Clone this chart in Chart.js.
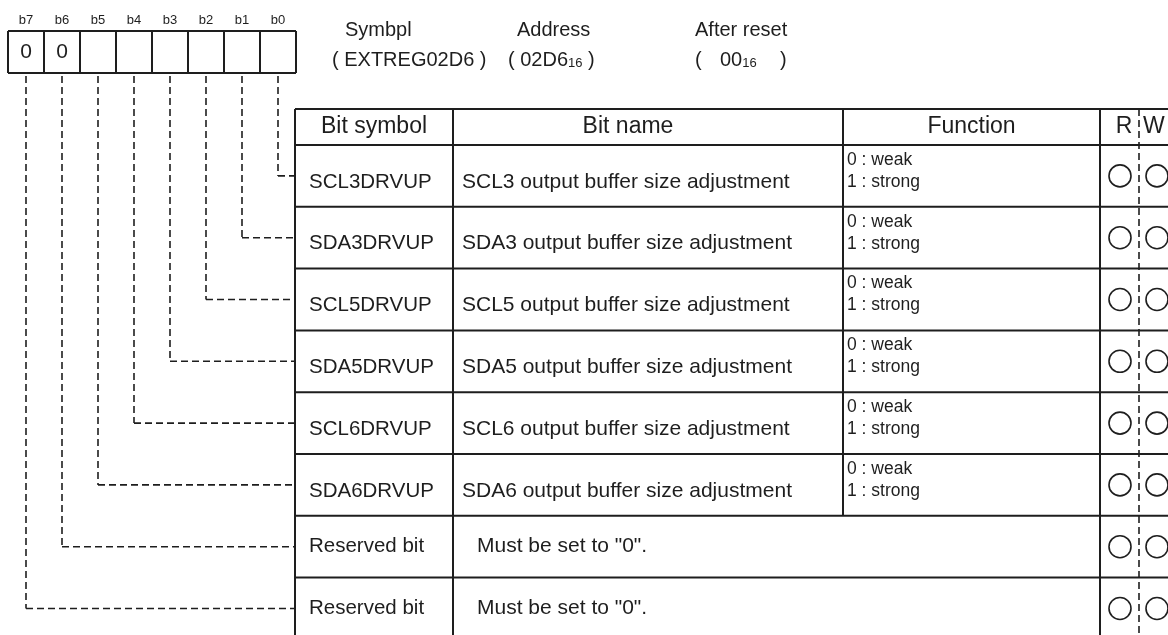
<!DOCTYPE html>
<html>
<head>
<meta charset="utf-8">
<script src="https://cdn.jsdelivr.net/npm/chart.js@4.4.1/dist/chart.umd.min.js"></script>
<style>
  html, body { margin: 0; padding: 0; background: #fff; }
  #wrap { width: 1168px; height: 635px; position: relative; }
</style>
</head>
<body>
<div id="wrap"><canvas id="reg"></canvas></div>
<script>
// register contents
const bitLabels = ['b7', 'b6', 'b5', 'b4', 'b3', 'b2', 'b1', 'b0'];
const bitValues = ['0', '0', '', '', '', '', '', ''];
const rowBits = [0, 1, 2, 3, 4, 5, 6, 7]; // bit number described by each table row
const bitSymbols = ['SCL3DRVUP', 'SDA3DRVUP', 'SCL5DRVUP', 'SDA5DRVUP', 'SCL6DRVUP', 'SDA6DRVUP', 'Reserved bit', 'Reserved bit'];
const bitNames = [
  'SCL3 output buffer size adjustment',
  'SDA3 output buffer size adjustment',
  'SCL5 output buffer size adjustment',
  'SDA5 output buffer size adjustment',
  'SCL6 output buffer size adjustment',
  'SDA6 output buffer size adjustment',
  'Must be set to "0".',
  'Must be set to "0".'
];
const functionLines = [
  ['0 : weak', '1 : strong'],
  ['0 : weak', '1 : strong'],
  ['0 : weak', '1 : strong'],
  ['0 : weak', '1 : strong'],
  ['0 : weak', '1 : strong'],
  ['0 : weak', '1 : strong'],
  [],
  []
];
const readMarks = [true, true, true, true, true, true, true, true];
const writeMarks = [true, true, true, true, true, true, true, true];
const headerTitles = ['Bit symbol', 'Bit name', 'Function', 'R', 'W'];
const regSymbol = 'EXTREG02D6';
const regAddress = '02D6';
const regReset = '00';

// layout, in page units (the x/y scales run over the whole page)
const PAGE_W = 1168, PAGE_H = 635;
const box = { left: 8, top: 31, cell: 36, height: 42 };
const tbl = { top: 109, headH: 36, rowH: 61.8, cols: [295, 453, 843, 1100, 1139, 1182] };
const rCol = 1120, wCol = 1157;
const INK = '#1e1e1e';
const FONT = '"Liberation Sans", Arial, Helvetica, sans-serif';

const rowTop = (i) => tbl.top + tbl.headH + i * tbl.rowH;
const rowMid = (i) => rowTop(i) + tbl.rowH / 2;
const bitX = (b) => box.left + (7 - b + 0.5) * box.cell;

const registerPlugin = {
  id: 'registerDiagram',
  beforeDatasetsDraw(chart) {
    const ctx = chart.ctx;
    const sx = (v) => chart.scales.x.getPixelForValue(v);
    const sy = (v) => chart.scales.y.getPixelForValue(v);

    const line = (x1, y1, x2, y2, w, dash) => {
      ctx.save();
      ctx.strokeStyle = INK;
      ctx.lineWidth = w;
      ctx.setLineDash(dash || []);
      ctx.beginPath();
      ctx.moveTo(sx(x1), sy(y1));
      ctx.lineTo(sx(x2), sy(y2));
      ctx.stroke();
      ctx.restore();
    };
    const text = (str, x, y, size, align) => {
      ctx.font = size + 'px ' + FONT;
      ctx.fillStyle = INK;
      ctx.textAlign = align || 'left';
      ctx.textBaseline = 'middle';
      ctx.fillText(str, sx(x), sy(y));
      return ctx.measureText(str).width;
    };

    ctx.save();

    // bit labels and register box
    bitLabels.forEach((lab, i) => {
      text(lab, box.left + (i + 0.5) * box.cell, 20, 13, 'center');
      if (bitValues[i]) text(bitValues[i], box.left + (i + 0.5) * box.cell, box.top + box.height / 2, 21, 'center');
    });
    const boxRight = box.left + 8 * box.cell;
    line(box.left, box.top, boxRight, box.top, 2);
    line(box.left, box.top + box.height, boxRight, box.top + box.height, 2);
    for (let i = 0; i <= 8; i++) {
      const x = box.left + i * box.cell;
      line(x, box.top, x, box.top + box.height, 2);
    }

    // register info
    text('Symbpl', 345, 30, 20);
    text('( ' + regSymbol + ' )', 332, 60, 20);
    text('Address', 517, 30, 20);
    let w = text('( ' + regAddress, 508, 60, 20);
    const subX = 508 + w;
    w = text('16', subX, 63, 13);
    text(' )', subX + w, 60, 20);
    text('After reset', 695, 30, 20);
    text('(', 695, 60, 20);
    w = text(regReset, 720, 60, 20);
    text('16', 720 + w, 63, 13);
    text(')', 780, 60, 20);

    // leader lines from each bit to its row
    rowBits.forEach((b, i) => {
      const x = bitX(b);
      const y = rowMid(i);
      line(x, box.top + box.height + 3, x, y, 1.6, [7, 4]);
      line(x, y, tbl.cols[0], y, 1.6, [7, 4]);
    });

    // table grid
    const c = tbl.cols;
    const bottom = rowTop(bitSymbols.length);
    line(c[0], tbl.top, c[5], tbl.top, 2);
    line(c[0], tbl.top + tbl.headH, c[5], tbl.top + tbl.headH, 2);
    for (let i = 1; i <= bitSymbols.length; i++) line(c[0], rowTop(i), c[5], rowTop(i), 2);
    line(c[0], tbl.top, c[0], bottom, 2);
    line(c[3], tbl.top, c[3], bottom, 2);
    line(c[1], tbl.top, c[1], bottom, 2);
    line(c[2], tbl.top, c[2], tbl.top + tbl.headH, 2);
    functionLines.forEach((f, i) => {
      if (f.length) line(c[2], rowTop(i), c[2], rowTop(i + 1), 2);
    });
    line(c[4], tbl.top, c[4], bottom, 1.6, [7, 4]);

    // header
    const hy = tbl.top + tbl.headH / 2;
    text(headerTitles[0], (c[0] + c[1]) / 2, hy, 23, 'center');
    text(headerTitles[1], 628, hy, 23, 'center');
    text(headerTitles[2], (c[2] + c[3]) / 2, hy, 23, 'center');
    text(headerTitles[3], 1124, hy, 23, 'center');
    text(headerTitles[4], 1143, hy, 23, 'left');

    // rows
    bitSymbols.forEach((s, i) => {
      const m = rowMid(i);
      const two = functionLines[i].length > 0;
      const ty = two ? m + 6 : m;
      text(s, 309, ty, 20.5);
      text(bitNames[i], two ? 462 : 477, ty, 21);
      functionLines[i].forEach((f, k) => text(f, 847, m - 16 + k * 22, 17.5));
    });

    ctx.restore();
  }
};

const markData = (marks, x) => marks.map((m, i) => (m ? { x: x, y: rowMid(i) } : null)).filter(Boolean);

new Chart(document.getElementById('reg'), {
  type: 'scatter',
  data: {
    datasets: [
      {
        label: 'R',
        data: markData(readMarks, rCol),
        pointStyle: 'circle',
        pointRadius: 11,
        borderColor: INK,
        borderWidth: 1.6,
        backgroundColor: 'rgba(0,0,0,0)'
      },
      {
        label: 'W',
        data: markData(writeMarks, wCol),
        pointStyle: 'circle',
        pointRadius: 11,
        borderColor: INK,
        borderWidth: 1.6,
        backgroundColor: 'rgba(0,0,0,0)'
      }
    ]
  },
  options: {
    responsive: true,
    maintainAspectRatio: false,
    animation: false,
    events: [],
    layout: { padding: 0, autoPadding: false },
    plugins: { legend: { display: false }, tooltip: { enabled: false } },
    scales: {
      x: { type: 'linear', min: 0, max: PAGE_W, display: false },
      y: { type: 'linear', min: 0, max: PAGE_H, reverse: true, display: false }
    }
  },
  plugins: [registerPlugin]
});
</script>
</body>
</html>
